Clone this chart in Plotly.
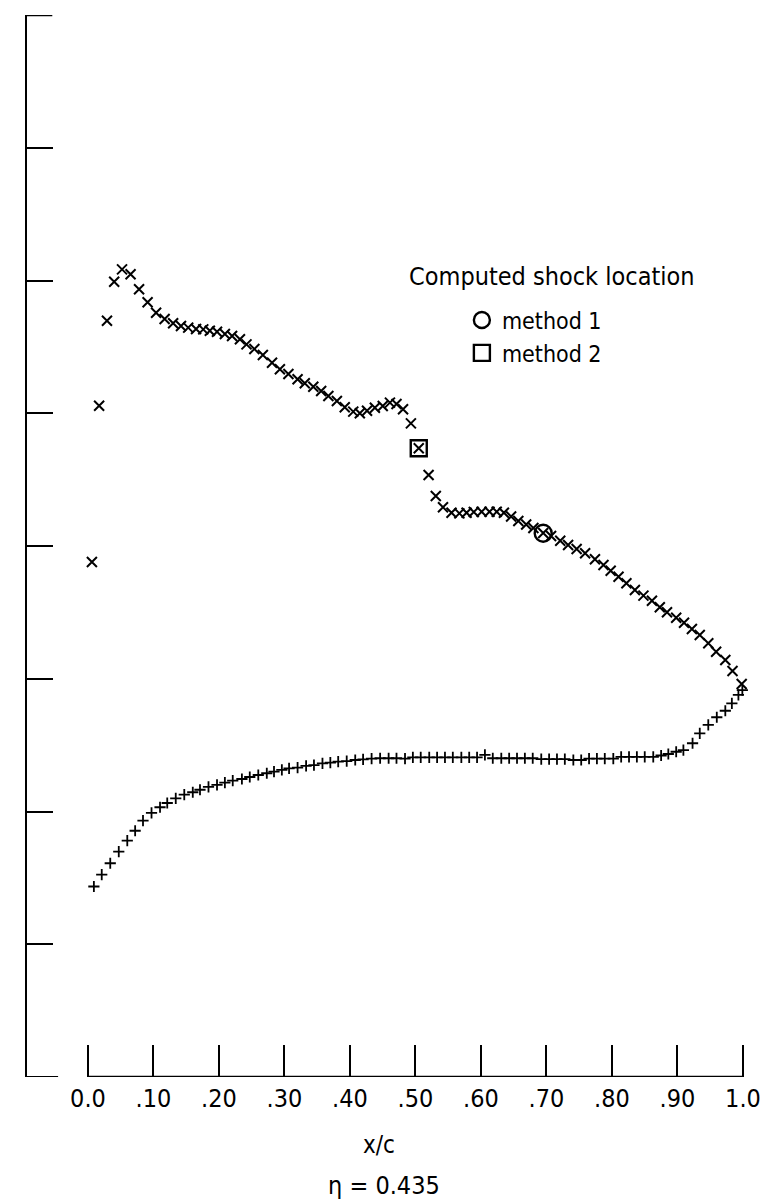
import plotly.graph_objects as go

# Upper-surface data (x markers)
upper_x = [0.006, 0.017, 0.029, 0.040, 0.052, 0.065, 0.078, 0.091, 0.104, 0.117,
           0.130, 0.142, 0.153, 0.165, 0.176, 0.186, 0.197, 0.209, 0.220, 0.232,
           0.242, 0.254, 0.267, 0.281, 0.293, 0.306, 0.320, 0.331, 0.344, 0.356,
           0.367, 0.380, 0.392, 0.405, 0.415, 0.426, 0.438, 0.450, 0.461, 0.471,
           0.481, 0.493, 0.505, 0.520, 0.531, 0.542, 0.555, 0.567, 0.578, 0.589,
           0.601, 0.613, 0.624, 0.635, 0.646, 0.657, 0.669, 0.680, 0.695, 0.707,
           0.721, 0.733, 0.746, 0.759, 0.774, 0.787, 0.798, 0.810, 0.822, 0.835,
           0.848, 0.861, 0.873, 0.884, 0.898, 0.910, 0.922, 0.934, 0.947, 0.959,
           0.973, 0.984, 0.998]
upper_y = [3.879, 5.057, 5.697, 5.991, 6.084, 6.047, 5.934, 5.836, 5.757, 5.710,
           5.678, 5.657, 5.645, 5.635, 5.632, 5.622, 5.614, 5.597, 5.582, 5.557,
           5.519, 5.484, 5.439, 5.381, 5.331, 5.296, 5.256, 5.226, 5.200, 5.168,
           5.130, 5.092, 5.045, 5.012, 5.000, 5.019, 5.042, 5.055, 5.080, 5.070,
           5.030, 4.924, 4.736, 4.535, 4.377, 4.292, 4.251, 4.246, 4.251, 4.256,
           4.258, 4.258, 4.258, 4.251, 4.222, 4.188, 4.162, 4.136, 4.098, 4.075,
           4.040, 4.008, 3.977, 3.945, 3.900, 3.857, 3.814, 3.769, 3.719, 3.669,
           3.626, 3.588, 3.538, 3.501, 3.460, 3.422, 3.375, 3.330, 3.267, 3.204,
           3.141, 3.058, 2.960]

# Lower-surface data (+ markers)
lower_x = [0.009, 0.021, 0.034, 0.047, 0.060, 0.072, 0.084, 0.097, 0.110, 0.121,
           0.134, 0.147, 0.160, 0.171, 0.184, 0.197, 0.209, 0.221, 0.235, 0.247,
           0.260, 0.273, 0.284, 0.296, 0.307, 0.320, 0.333, 0.345, 0.358, 0.370,
           0.382, 0.395, 0.408, 0.420, 0.433, 0.446, 0.459, 0.471, 0.484, 0.496,
           0.508, 0.521, 0.533, 0.545, 0.557, 0.570, 0.582, 0.594, 0.606, 0.618,
           0.631, 0.643, 0.655, 0.667, 0.679, 0.692, 0.704, 0.716, 0.728, 0.741,
           0.753, 0.765, 0.777, 0.789, 0.802, 0.814, 0.826, 0.838, 0.850, 0.863,
           0.875, 0.886, 0.898, 0.909, 0.923, 0.934, 0.947, 0.960, 0.973, 0.983,
           0.993, 0.999]
lower_y = [1.435, 1.525, 1.610, 1.697, 1.780, 1.855, 1.932, 1.989, 2.032, 2.064,
           2.099, 2.127, 2.145, 2.164, 2.185, 2.200, 2.217, 2.232, 2.245, 2.260,
           2.275, 2.288, 2.300, 2.313, 2.325, 2.330, 2.343, 2.350, 2.363, 2.368,
           2.375, 2.380, 2.388, 2.393, 2.398, 2.401, 2.401, 2.401, 2.399, 2.407,
           2.407, 2.407, 2.407, 2.407, 2.407, 2.407, 2.407, 2.407, 2.426, 2.401,
           2.401, 2.401, 2.401, 2.401, 2.401, 2.395, 2.395, 2.395, 2.395, 2.388,
           2.388, 2.399, 2.399, 2.399, 2.399, 2.411, 2.411, 2.411, 2.411, 2.411,
           2.422, 2.433, 2.450, 2.463, 2.514, 2.589, 2.652, 2.710, 2.759, 2.815,
           2.878, 2.915]

# Computed shock locations
shock1_x = [0.695]
shock1_y = [4.096]
shock2_x = [0.505]
shock2_y = [4.736]

x_tickvals = [0.0, 0.1, 0.2, 0.3, 0.4, 0.5, 0.6, 0.7, 0.8, 0.9, 1.0]
x_ticktext = ["0.0", ".10", ".20", ".30", ".40", ".50", ".60", ".70", ".80", ".90", "1.0"]
y_tickvals = [0, 1, 2, 3, 4, 5, 6, 7, 8]

FONT = "DejaVu Sans Condensed, Liberation Sans Narrow, Arial Narrow, sans-serif"

fig = go.Figure()
fig.add_trace(go.Scatter(x=upper_x, y=upper_y, mode="markers", showlegend=False,
                         marker=dict(symbol="x-thin", size=10, color="black",
                                     line=dict(width=2, color="black"))))
fig.add_trace(go.Scatter(x=lower_x, y=lower_y, mode="markers", showlegend=False,
                         marker=dict(symbol="cross-thin", size=8, color="black",
                                     line=dict(width=1.8, color="black"))))
fig.add_trace(go.Scatter(x=shock1_x, y=shock1_y, mode="markers", name="method 1",
                         marker=dict(symbol="circle-open", size=17, color="black",
                                     line=dict(width=2.4, color="black"))))
fig.add_trace(go.Scatter(x=shock2_x, y=shock2_y, mode="markers", name="method 2",
                         marker=dict(symbol="square-open", size=16, color="black",
                                     line=dict(width=2.4, color="black"))))

# x-axis baseline (only spans 0 to 1) and the frame corners of the y scale
fig.add_shape(type="line", xref="x", yref="y", x0=0, x1=1.0, y0=0, y1=0,
              line=dict(color="black", width=2.5))
fig.add_shape(type="line", xref="paper", yref="y", x0=0, x1=0.043, y0=0, y1=0,
              line=dict(color="black", width=2))
fig.add_shape(type="line", xref="paper", yref="y", x0=0, x1=0.035, y0=8, y1=8,
              line=dict(color="black", width=2.5))

fig.update_layout(
    width=777, height=1201,
    margin=dict(l=27, r=27, t=15, b=124),
    paper_bgcolor="white", plot_bgcolor="white",
    font=dict(family=FONT, color="black", size=24),
    legend=dict(x=0.6015, y=0.7330, xanchor="left", yanchor="top",
                bgcolor="rgba(0,0,0,0)",
                font=dict(size=23, family=FONT),
                itemsizing="trace", tracegroupgap=0),
    annotations=[
        dict(text="Computed shock location", xref="paper", yref="paper",
             x=0.5256, y=0.7542, xanchor="left", yanchor="middle",
             showarrow=False, font=dict(size=25, family=FONT)),
        dict(text="x/c", xref="paper", yref="paper", x=0.4869, y=-0.064,
             xanchor="center", yanchor="middle", showarrow=False,
             font=dict(size=24, family=FONT)),
        dict(text="\u03b7 = 0.435", xref="paper", yref="paper", x=0.4938, y=-0.1017,
             xanchor="center", yanchor="middle", showarrow=False,
             font=dict(size=25, family=FONT)),
    ],
)

fig.update_xaxes(range=[-0.0931, 1.0107], showgrid=False, zeroline=False,
                 showline=False, ticks="inside", ticklen=32, tickwidth=2,
                 tickcolor="black", tickvals=x_tickvals, ticktext=x_ticktext,
                 tickfont=dict(size=25, family=FONT),
                 ticklabelstandoff=4)
fig.update_yaxes(range=[0, 8], showgrid=False, zeroline=False,
                 showline=True, linecolor="black", linewidth=2,
                 ticks="inside", ticklen=26, tickwidth=2, tickcolor="black",
                 tickvals=y_tickvals, showticklabels=False)

fig.write_html("out.html")
